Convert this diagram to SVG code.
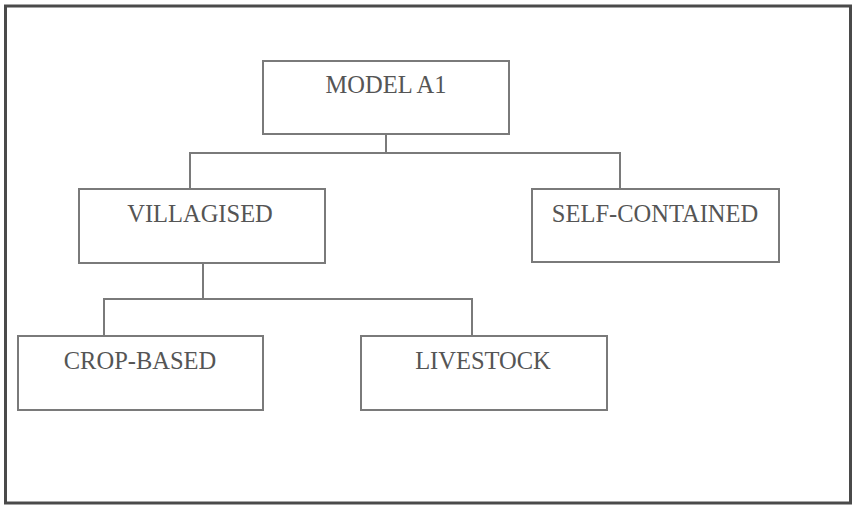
<svg xmlns="http://www.w3.org/2000/svg" width="853" height="507" viewBox="0 0 853 507">
<style>
.frame{fill:#fff;stroke:#4a4a4a;stroke-width:3}
.box{fill:#fff;stroke:#7a7a7a;stroke-width:2}
.conn{fill:none;stroke:#7a7a7a;stroke-width:2}
.lbl{font-family:"Liberation Serif","Times New Roman",serif;font-size:24.5px;fill:#555;text-anchor:middle}
</style>
<rect x="0" y="0" width="853" height="507" fill="#fff"/>
<rect class="frame" x="5.5" y="6" width="845" height="497"/>
<g id="connectors">
<path class="conn" d="M386 134V153M190 189V153H620V189"/>
<path class="conn" d="M203 263V299M104 336V299H472V336"/>
</g>
<g id="model-a1"><rect class="box" x="263" y="61" width="246" height="73"/><text class="lbl" x="386" y="92.5">MODEL A1</text></g>
<g id="villagised"><rect class="box" x="79" y="189" width="246" height="74"/><text class="lbl" x="200" y="222">VILLAGISED</text></g>
<g id="self-contained"><rect class="box" x="532" y="189" width="247" height="73"/><text class="lbl" x="655" y="221.5">SELF-CONTAINED</text></g>
<g id="crop-based"><rect class="box" x="18" y="336" width="245" height="74"/><text class="lbl" x="140" y="369">CROP-BASED</text></g>
<g id="livestock"><rect class="box" x="361" y="336" width="246" height="74"/><text class="lbl" x="483" y="369">LIVESTOCK</text></g>
</svg>
